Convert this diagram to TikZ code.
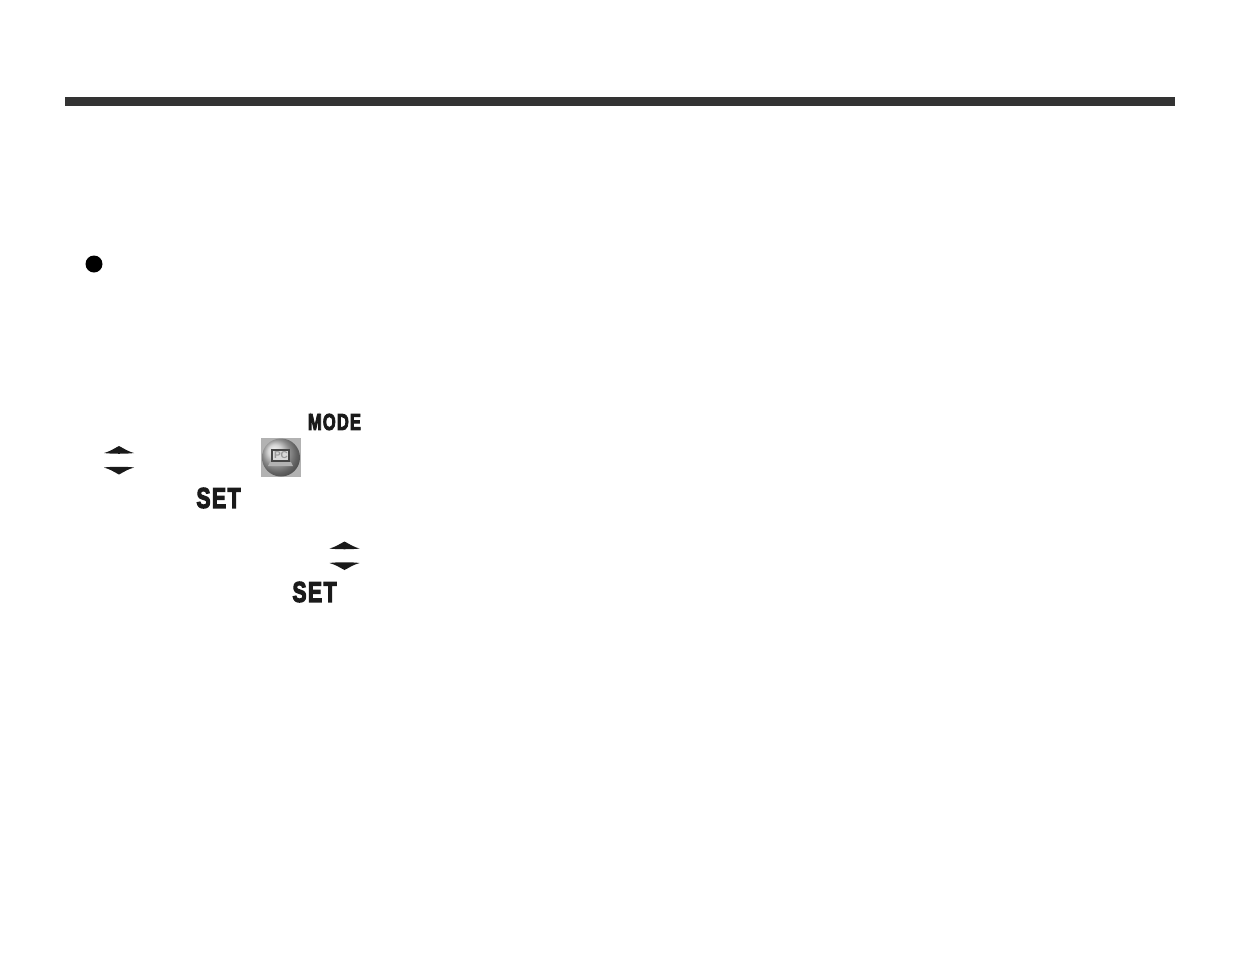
\documentclass[tikz,border=0pt]{standalone}
\usepackage{graphicx}
\usepackage{fontspec}
\setmainfont{Liberation Sans}
\newfontfamily\keyfont[FakeBold=4.5,LetterSpace=7]{Liberation Sans Bold}
\definecolor{barcol}{HTML}{333333}
\definecolor{keycol}{HTML}{1A1A1A}
\newcommand{\keylabel}[3]{\resizebox{#1pt}{#2pt}{\keyfont #3}}
\newcommand{\updown}[2]{%
  \fill[keycol] (#1-15,#2-6.5) .. controls (#1-9,#2-8) and (#1-4,#2-11.5) .. (#1,#2-13.5)
    .. controls (#1+4,#2-11.5) and (#1+9,#2-8) .. (#1+15,#2-6.5)
    .. controls (#1+8,#2-5.5) and (#1-8,#2-5.5) .. cycle;
  \fill[keycol] (#1-15,#2+8) .. controls (#1-8,#2+7) and (#1+8,#2+7) .. (#1+15,#2+8)
    .. controls (#1+9,#2+9.5) and (#1+4,#2+13) .. (#1,#2+15)
    .. controls (#1-4,#2+13) and (#1-9,#2+9.5) .. cycle;
}
\tikzset{keytext/.style={inner sep=0pt,outer sep=0pt,text=keycol}}
\begin{document}
\begin{tikzpicture}[x=1pt,y=-1pt]
\useasboundingbox (0,0) rectangle (1235,954);
\fill[barcol] (65,97) rectangle (1175,106);
\fill[black] (94,264) circle (8.5);
\node[keytext] (mode) at (334.5,422) {\keylabel{53}{16}{MODE}};
\node[keytext] (set1) at (218.5,498) {\keylabel{44}{20}{SET}};
\node[keytext] (set2) at (314.5,592) {\keylabel{44}{20}{SET}};
\updown{119}{459.5}
\updown{344.5}{555}
% PC icon
\fill[gray!60] (261,438) rectangle (301,477);
\shade[ball color=gray!45] (281,457.5) circle (19);
\fill[gray!55!black] (271,449) rectangle (290,462);
\fill[gray!30] (273,451) rectangle (288,460);
\fill[gray!60] (270,462) -- (291,462) -- (293,466) -- (268,466) -- cycle;
\node[inner sep=0pt,text=gray!80,font=\bfseries\fontsize{10}{10}\selectfont] (pc) at (281,455.5) {PC};
\end{tikzpicture}
\end{document}
